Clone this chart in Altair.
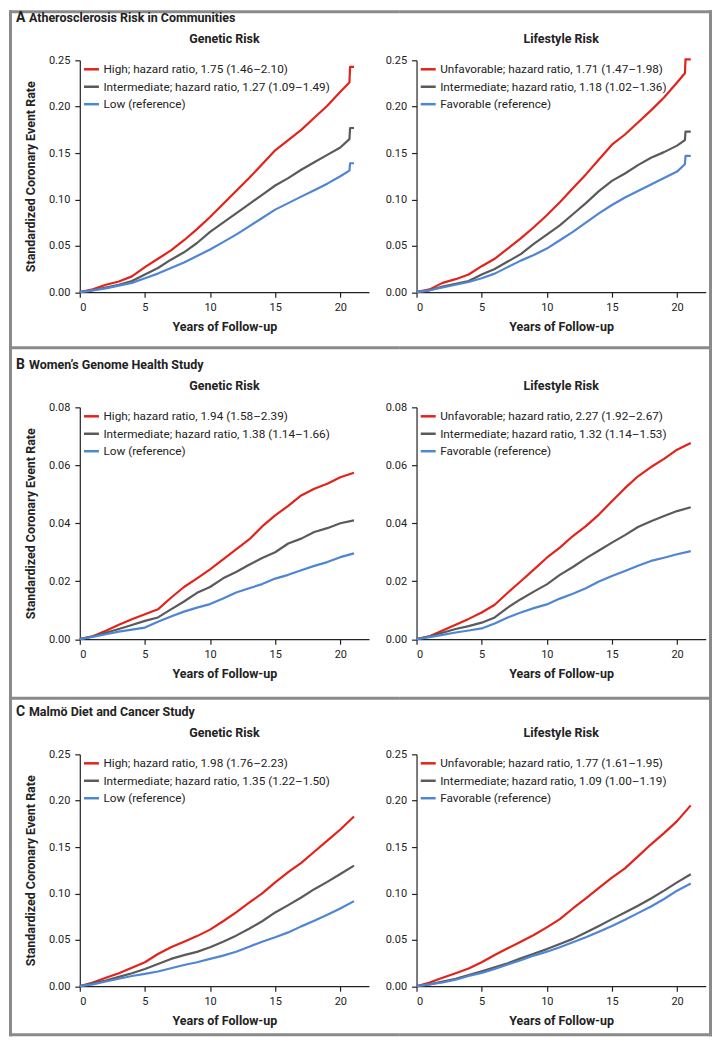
import altair as alt
import pandas as pd

# ---------------- data ----------------
YEARS_A_GEN = [0, 1, 2, 3, 4, 5, 6, 7, 8, 9, 10, 11, 12, 13, 14, 15, 16, 17, 18, 19, 20, 20.7, 20.75, 21.05]
YEARS_A_LIFE = [0, 1, 2, 3, 4, 5, 6, 7, 8, 9, 10, 11, 12, 13, 14, 15, 16, 17, 18, 19, 20, 20.6, 20.65, 21.05]
YEARS_BC = [0, 1, 2, 3, 4, 5, 6, 7, 8, 9, 10, 11, 12, 13, 14, 15, 16, 17, 18, 19, 20, 21.05]

A_GEN_HIGH = [0, 0.003, 0.008, 0.0115, 0.017, 0.027, 0.036, 0.045, 0.056, 0.068, 0.081, 0.095, 0.109, 0.123, 0.138, 0.153, 0.164, 0.175, 0.188, 0.201, 0.216, 0.226, 0.243, 0.243]
A_GEN_INT = [0, 0.002, 0.005, 0.008, 0.012, 0.019, 0.026, 0.035, 0.043, 0.053, 0.065, 0.075, 0.085, 0.095, 0.105, 0.115, 0.123, 0.132, 0.140, 0.148, 0.156, 0.165, 0.177, 0.177]
A_GEN_LOW = [0, 0.002, 0.004, 0.007, 0.010, 0.015, 0.020, 0.026, 0.032, 0.039, 0.046, 0.054, 0.062, 0.071, 0.080, 0.089, 0.096, 0.103, 0.110, 0.117, 0.125, 0.131, 0.139, 0.139]

A_LIFE_UNFAV = [0, 0.003, 0.010, 0.014, 0.019, 0.028, 0.036, 0.047, 0.058, 0.070, 0.083, 0.097, 0.112, 0.127, 0.143, 0.159, 0.170, 0.183, 0.196, 0.210, 0.226, 0.236, 0.251, 0.251]
A_LIFE_INT = [0, 0.002, 0.006, 0.009, 0.012, 0.019, 0.025, 0.033, 0.041, 0.052, 0.062, 0.072, 0.084, 0.096, 0.109, 0.120, 0.128, 0.137, 0.145, 0.151, 0.158, 0.164, 0.173, 0.173]
A_LIFE_FAV = [0, 0.002, 0.005, 0.008, 0.011, 0.015, 0.020, 0.027, 0.034, 0.040, 0.047, 0.056, 0.065, 0.075, 0.085, 0.094, 0.102, 0.109, 0.116, 0.123, 0.130, 0.138, 0.147, 0.147]

B_GEN_HIGH = [0, 0.001, 0.0029, 0.005, 0.0069, 0.0086, 0.0103, 0.0143, 0.018, 0.021, 0.0241, 0.0275, 0.031, 0.0344, 0.0389, 0.0427, 0.046, 0.0496, 0.0519, 0.0536, 0.0559, 0.0574]
B_GEN_INT = [0, 0.001, 0.0022, 0.0035, 0.0049, 0.0063, 0.0075, 0.0103, 0.013, 0.016, 0.018, 0.021, 0.0232, 0.0257, 0.028, 0.030, 0.033, 0.0347, 0.037, 0.0383, 0.040, 0.041]
B_GEN_LOW = [0, 0.0008, 0.0017, 0.0026, 0.0033, 0.004, 0.006, 0.0078, 0.0095, 0.0109, 0.0121, 0.014, 0.0161, 0.0176, 0.019, 0.0209, 0.0222, 0.0238, 0.0253, 0.0266, 0.0283, 0.0296]

B_LIFE_UNFAV = [0, 0.001, 0.003, 0.005, 0.007, 0.0092, 0.0119, 0.016, 0.020, 0.024, 0.0281, 0.0316, 0.0356, 0.039, 0.043, 0.0476, 0.0521, 0.0562, 0.0594, 0.0622, 0.0654, 0.0677]
B_LIFE_INT = [0, 0.001, 0.0022, 0.0035, 0.0045, 0.0057, 0.0075, 0.0109, 0.0138, 0.0164, 0.0189, 0.0222, 0.0249, 0.0279, 0.0306, 0.0333, 0.0359, 0.0387, 0.0407, 0.0425, 0.0442, 0.0455]
B_LIFE_FAV = [0, 0.0007, 0.0015, 0.0023, 0.003, 0.0037, 0.0054, 0.0075, 0.0092, 0.0107, 0.012, 0.014, 0.0157, 0.0176, 0.0199, 0.0218, 0.0235, 0.0253, 0.027, 0.0281, 0.0293, 0.0304]

C_GEN_HIGH = [0, 0.004, 0.009, 0.014, 0.020, 0.0258, 0.0347, 0.042, 0.048, 0.054, 0.061, 0.070, 0.0795, 0.090, 0.100, 0.112, 0.123, 0.133, 0.145, 0.157, 0.169, 0.183]
C_GEN_INT = [0, 0.003, 0.006, 0.010, 0.014, 0.0186, 0.024, 0.0294, 0.0335, 0.037, 0.042, 0.048, 0.0545, 0.062, 0.070, 0.0795, 0.0874, 0.0956, 0.1046, 0.1125, 0.121, 0.130]
C_GEN_LOW = [0, 0.002, 0.005, 0.008, 0.011, 0.0133, 0.0158, 0.0193, 0.0229, 0.0258, 0.0294, 0.033, 0.0372, 0.0426, 0.048, 0.0527, 0.058, 0.0645, 0.0706, 0.077, 0.0838, 0.0917]

C_LIFE_UNFAV = [0, 0.004, 0.009, 0.014, 0.019, 0.0258, 0.0337, 0.0408, 0.048, 0.0552, 0.0634, 0.0723, 0.0838, 0.0946, 0.106, 0.117, 0.127, 0.140, 0.153, 0.165, 0.178, 0.195]
C_LIFE_INT = [0, 0.002, 0.005, 0.008, 0.012, 0.016, 0.0204, 0.0247, 0.030, 0.035, 0.040, 0.0455, 0.051, 0.058, 0.065, 0.0723, 0.0795, 0.0867, 0.0946, 0.103, 0.112, 0.1207]
C_LIFE_FAV = [0, 0.002, 0.004, 0.007, 0.011, 0.0143, 0.0186, 0.0233, 0.028, 0.033, 0.0372, 0.042, 0.0473, 0.0527, 0.0587, 0.065, 0.0716, 0.0788, 0.086, 0.094, 0.103, 0.1107]

LABELS_A_GEN = ["High; hazard ratio, 1.75 (1.46\u20132.10)", "Intermediate; hazard ratio, 1.27 (1.09\u20131.49)", "Low (reference)"]
LABELS_A_LIFE = ["Unfavorable; hazard ratio, 1.71 (1.47\u20131.98)", "Intermediate; hazard ratio, 1.18 (1.02\u20131.36)", "Favorable (reference)"]
LABELS_B_GEN = ["High; hazard ratio, 1.94 (1.58\u20132.39)", "Intermediate; hazard ratio, 1.38 (1.14\u20131.66)", "Low (reference)"]
LABELS_B_LIFE = ["Unfavorable; hazard ratio, 2.27 (1.92\u20132.67)", "Intermediate; hazard ratio, 1.32 (1.14\u20131.53)", "Favorable (reference)"]
LABELS_C_GEN = ["High; hazard ratio, 1.98 (1.76\u20132.23)", "Intermediate; hazard ratio, 1.35 (1.22\u20131.50)", "Low (reference)"]
LABELS_C_LIFE = ["Unfavorable; hazard ratio, 1.77 (1.61\u20131.95)", "Intermediate; hazard ratio, 1.09 (1.00\u20131.19)", "Favorable (reference)"]

SECTION_LETTERS = ["A", "B", "C"]
SECTION_TITLES = ["Atherosclerosis Risk in Communities", "Women\u2019s Genome Health Study", "Malm\u00f6 Diet and Cancer Study"]
PANEL_TITLES = ["Genetic Risk", "Lifestyle Risk"]
Y_TICKS_025 = [0, 0.05, 0.10, 0.15, 0.20, 0.25]
Y_TICKS_008 = [0, 0.02, 0.04, 0.06, 0.08]
X_TICKS = [0, 5, 10, 15, 20]

# ---------------- styling ----------------
COLORS = ["#e2231a", "#5a5a5a", "#4f86d4"]
FRAME = "#8a8a8a"
INK = "#222222"
FONT = "Roboto"
W, H = 290, 232.5
XMAX = 22.2

one = pd.DataFrame({"k": [0]})


def rect(x, x2, y, y2):
    return alt.Chart(one).mark_rect(color=FRAME).encode(
        x=alt.value(x), x2=alt.value(x2), y=alt.value(y), y2=alt.value(y2)
    )


def text(s, x, y, size, weight="bold", align="left"):
    return alt.Chart(one).mark_text(
        font=FONT, fontSize=size, fontWeight=weight, align=align,
        baseline="alphabetic", color=INK
    ).encode(x=alt.value(x), y=alt.value(y), text=alt.value(s))


# frame geometry relative to each plot's origin, per section (top, bottom)
ROW_SPANS = [(-50.3, 287.7), (-61.3, 291.2), (-57.8, 282.7)]
TOP_STRIPS = [(-50.3, -47.3), (-61.3, -58.3), (-57.8, -54.8)]


def panel(row, col, times, series, labels, ymax, yticks):
    recs = []
    for lab, vals in zip(labels, series):
        for t, v in zip(times, vals):
            recs.append({"t": t, "v": v, "label": lab})
    df = pd.DataFrame(recs)
    left = col == 0
    yaxis = alt.Axis(
        values=yticks, format=".2f", grid=False, tickSize=5, labelPadding=5,
        labelFont=FONT, labelFontSize=11, labelColor=INK,
        domainColor=INK, tickColor=INK, domainWidth=1.2, tickWidth=1.2,
        title="Standardized Coronary Event Rate" if left else None,
        titleFont=FONT, titleFontSize=12.5, titleFontWeight="bold", titleColor=INK,
        titleAngle=270, titleBaseline="alphabetic", titleAlign="center",
        titleX=-45.7, titleY=H / 2,
    )
    xaxis = alt.Axis(
        values=X_TICKS, grid=False, tickSize=5, labelPadding=4,
        labelFont=FONT, labelFontSize=11, labelColor=INK,
        domainColor=INK, tickColor=INK, domainWidth=1.2, tickWidth=1.2,
        title="Years of Follow-up",
        titleFont=FONT, titleFontSize=12.5, titleFontWeight="bold", titleColor=INK,
        titleBaseline="alphabetic", titleAlign="center", titleX=W / 2, titleY=38.8,
    )
    lines = alt.Chart(df).mark_line(strokeWidth=2.2, strokeJoin="round").encode(
        x=alt.X("t:Q", scale=alt.Scale(domain=[0, XMAX], nice=False, zero=False), axis=xaxis),
        y=alt.Y("v:Q", scale=alt.Scale(domain=[0, ymax], nice=False), axis=yaxis),
        color=alt.Color(
            "label:N", sort=labels,
            scale=alt.Scale(domain=labels, range=COLORS),
            legend=alt.Legend(
                title=None, orient="none", legendX=2.7, legendY=0, padding=0,
                symbolType="stroke", symbolSize=225, symbolStrokeWidth=2.5,
                labelFont=FONT, labelFontSize=11.8, labelColor=INK, labelOffset=3,
                labelLimit=400, rowPadding=1.5,
            ),
        ),
        order=alt.Order("t:Q"),
    )
    top, bottom = ROW_SPANS[row]
    s1, s2 = TOP_STRIPS[row]
    layers = [lines]
    if left:
        layers += [
            rect(-71, -68, top, bottom),
            rect(-71, 321, s1, s2),
            text(SECTION_LETTERS[row], -64, -38, 14),
            text(SECTION_TITLES[row], -51, -38, 12.5),
        ]
        if row == 2:
            layers.append(rect(-71, 321, bottom - 3, bottom))
    else:
        layers += [
            rect(293.3, 296.3, top, bottom),
            rect(-16.7, 296.3, s1, s2),
        ]
        if row == 2:
            layers.append(rect(-16.7, 296.3, bottom - 3, bottom))
    layers.append(text(PANEL_TITLES[col], W / 2, -17.5, 12.5, align="center"))
    return alt.layer(*layers).properties(width=W, height=H)


panels = [
    panel(0, 0, YEARS_A_GEN, [A_GEN_HIGH, A_GEN_INT, A_GEN_LOW], LABELS_A_GEN, 0.25, Y_TICKS_025),
    panel(0, 1, YEARS_A_LIFE, [A_LIFE_UNFAV, A_LIFE_INT, A_LIFE_FAV], LABELS_A_LIFE, 0.25, Y_TICKS_025),
    panel(1, 0, YEARS_BC, [B_GEN_HIGH, B_GEN_INT, B_GEN_LOW], LABELS_B_GEN, 0.08, Y_TICKS_008),
    panel(1, 1, YEARS_BC, [B_LIFE_UNFAV, B_LIFE_INT, B_LIFE_FAV], LABELS_B_LIFE, 0.08, Y_TICKS_008),
    panel(2, 0, YEARS_BC, [C_GEN_HIGH, C_GEN_INT, C_GEN_LOW], LABELS_C_GEN, 0.25, Y_TICKS_025),
    panel(2, 1, YEARS_BC, [C_LIFE_UNFAV, C_LIFE_INT, C_LIFE_FAV], LABELS_C_LIFE, 0.25, Y_TICKS_025),
]

chart = alt.concat(
    *panels, columns=2, bounds="flush",
    spacing=alt.RowColnumber(row=115, column=47.7),
).resolve_scale(
    x="independent", y="independent", color="independent"
).properties(
    padding=0, background="white"
).configure_view(
    stroke="transparent"
)

chart.save("out.html", embed_options={"renderer": "svg", "actions": False})
